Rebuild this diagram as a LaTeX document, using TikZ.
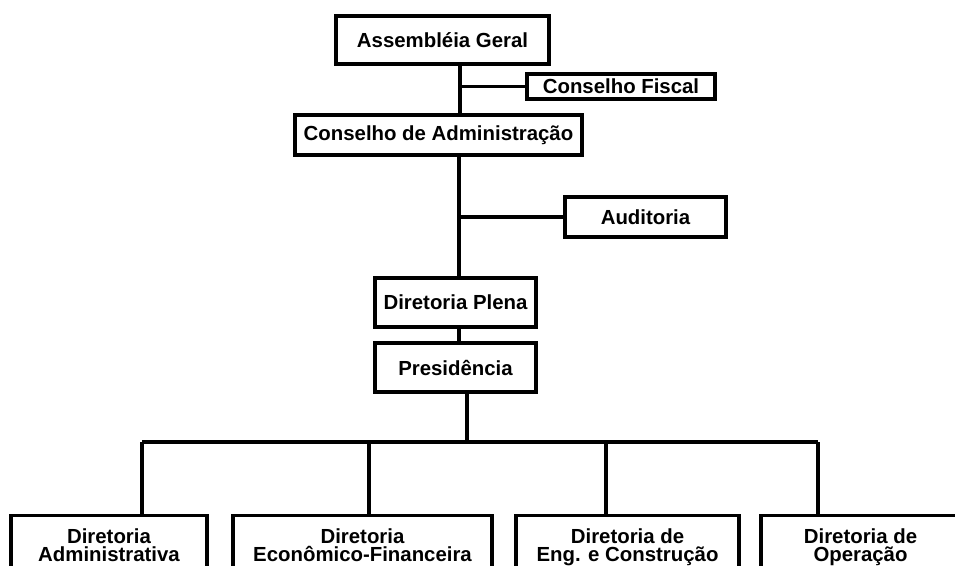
\documentclass[tikz,border=0pt]{standalone}
\usepackage{fontspec}
\setmainfont{Liberation Sans}
\begin{document}
\begin{tikzpicture}[
  x=0.02cm, y=-0.02cm,
  box/.style={draw, line width=1.8pt, align=center, inner sep=0pt, font=\fontsize{11.6}{10.4}\selectfont\bfseries},
  unit/.style={box, anchor=north, inner xsep=0pt, inner ysep=7.2pt},
  link/.style={line width=1.8pt},
]
\clip (0,0) rectangle (955,565);

% Upper bodies
\node[box, minimum width=4.26cm, minimum height=0.96cm] (ag) at (442.5,40) {Assembléia Geral};
\node[box, minimum width=3.76cm, minimum height=0.5cm] (cf) at (621,86.5) {Conselho Fiscal};
\node[box, minimum width=5.74cm, minimum height=0.8cm] (ca) at (438.5,135) {Conselho de Administração};
\node[box, minimum width=3.22cm, minimum height=0.8cm] (aud) at (645.5,217) {Auditoria};
\node[box, minimum width=3.22cm, minimum height=0.98cm] (dp) at (455.5,302.5) {Diretoria Plena};
\node[box, minimum width=3.22cm, minimum height=0.98cm] (pres) at (455.5,367.5) {Presidência};

% Spines
\coordinate (upper) at (460,0);
\coordinate (middle) at (459,0);
\coordinate (lower) at (467,442);
\draw[link] (upper |- ag.south) -- (upper |- ca.north);
\draw[link] (upper |- cf.west) -- (cf.west);
\draw[link] (middle |- ca.south) -- (middle |- dp.north);
\draw[link] (middle |- aud.west) -- (aud.west);
\draw[link] (middle |- dp.south) -- (middle |- pres.north);
\draw[link] (lower |- pres.south) -- (lower);

% Directorates
\node[unit, minimum width=3.92cm] (dadm) at (109,514) {Diretoria\\Administrativa};
\node[unit, minimum width=5.18cm] (decf) at (362.5,514) {Diretoria\\Econômico-Financeira};
\node[unit, minimum width=4.46cm] (deng) at (627.5,514) {Diretoria de\\Eng. e Construção};
\node[unit, minimum width=3.98cm] (dop) at (860.5,514) {Diretoria de\\Operação};

\coordinate (d1) at (142,442);
\coordinate (d2) at (369,442);
\coordinate (d3) at (606,442);
\coordinate (d4) at (818,442);
\draw[link] (d1) -- (d4);
\draw[link] (d1) -- (d1 |- dadm.north);
\draw[link] (d2) -- (d2 |- decf.north);
\draw[link] (d3) -- (d3 |- deng.north);
\draw[link] (d4) -- (d4 |- dop.north);
\end{tikzpicture}
\end{document}
